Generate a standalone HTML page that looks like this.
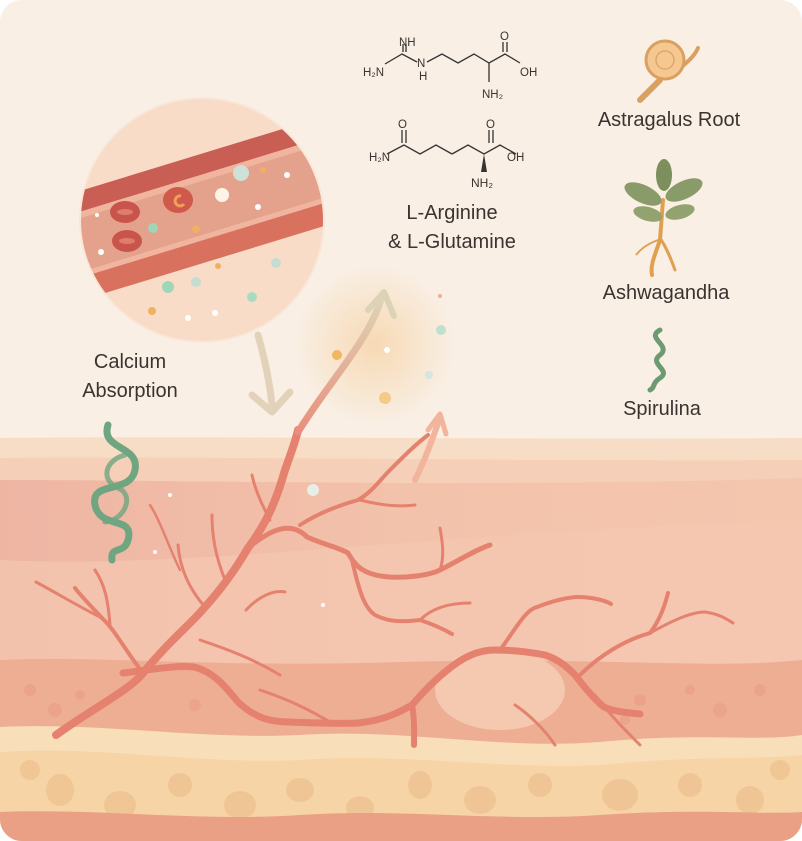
<!DOCTYPE html>
<html><head><meta charset="utf-8"><style>
html,body{margin:0;padding:0;background:#fff}
svg{display:block}
text{font-family:"Liberation Sans",sans-serif;fill:#3a3330}
</style></head><body>
<svg width="802" height="841" viewBox="0 0 802 841" xmlns="http://www.w3.org/2000/svg">
<defs>
<clipPath id="card"><rect x="0" y="0" width="802" height="841" rx="22"/></clipPath>
<clipPath id="circ"><circle cx="202" cy="220" r="121"/></clipPath>
<radialGradient id="glow" cx="0.5" cy="0.5" r="0.5"><stop offset="0" stop-color="#f6d4a8" stop-opacity="0.8"/><stop offset="1" stop-color="#f6d4a8" stop-opacity="0"/></radialGradient>
<linearGradient id="arr1" x1="0" y1="1" x2="0" y2="0"><stop offset="0" stop-color="#e88f7c"/><stop offset="1" stop-color="#ddd6b8"/></linearGradient>
<linearGradient id="dermis" x1="0" y1="0" x2="1" y2="0"><stop offset="0" stop-color="#eeb5a3"/><stop offset="0.5" stop-color="#f3c2ab"/><stop offset="1" stop-color="#f4c6ae"/></linearGradient>
</defs>
<g clip-path="url(#card)">
<rect width="802" height="841" fill="#f9efe4"/>
<path d="M0 438 C200 436 600 440 802 438 L802 841 L0 841Z" fill="#f7dcc6"/>
<path d="M0 458 C200 456 600 462 802 460 L802 841 L0 841Z" fill="#f5cfb7"/>
<path d="M0 480 C200 480 500 488 802 478 L802 841 L0 841Z" fill="url(#dermis)"/>
<path d="M0 560 C200 570 450 530 802 520 L802 841 L0 841Z" fill="#f5c8b0" opacity="0.7"/>
<path d="M0 660 C100 655 200 668 400 662 C600 656 700 670 802 660 L802 841 L0 841Z" fill="#eeae94"/>
<path d="M0 727 C100 722 200 740 300 735 C400 728 500 750 600 742 C700 732 760 742 802 735 L802 841 L0 841Z" fill="#f9dfb9"/>
<path d="M0 752 C100 745 200 765 300 760 C400 752 500 770 600 765 C700 755 760 760 802 755 L802 841 L0 841Z" fill="#f6d4a6"/>
<g fill="#eec08f" opacity="0.7">
<ellipse cx="60" cy="790" rx="14" ry="16"/><ellipse cx="120" cy="805" rx="16" ry="14"/><ellipse cx="180" cy="785" rx="12" ry="12"/><ellipse cx="240" cy="805" rx="16" ry="14"/><ellipse cx="300" cy="790" rx="14" ry="12"/><ellipse cx="360" cy="808" rx="14" ry="12"/><ellipse cx="420" cy="785" rx="12" ry="14"/><ellipse cx="480" cy="800" rx="16" ry="14"/><ellipse cx="540" cy="785" rx="12" ry="12"/><ellipse cx="620" cy="795" rx="18" ry="16"/><ellipse cx="690" cy="785" rx="12" ry="12"/><ellipse cx="750" cy="800" rx="14" ry="14"/><ellipse cx="780" cy="770" rx="10" ry="10"/><ellipse cx="30" cy="770" rx="10" ry="10"/>
</g>
<path d="M0 812 C100 808 200 822 300 815 C400 808 500 822 600 815 C700 808 760 815 802 812 L802 841 L0 841Z" fill="#e9a084"/>
<g fill="#eba18a" opacity="0.8">
<circle cx="30" cy="690" r="6"/><circle cx="55" cy="710" r="7"/><circle cx="80" cy="695" r="5"/><circle cx="195" cy="705" r="6"/><circle cx="640" cy="700" r="6"/><circle cx="690" cy="690" r="5"/><circle cx="720" cy="710" r="7"/><circle cx="760" cy="690" r="6"/><circle cx="625" cy="720" r="5"/>
</g>
<ellipse cx="500" cy="690" rx="65" ry="40" fill="#f5c8b0"/>
<!-- vessels -->
<g fill="none" stroke="#e5826f" stroke-linecap="round" stroke-linejoin="round">
<path d="M56 735 C90 710 130 690 143 673 C170 640 190 625 205 607 C225 585 238 565 248 548 C265 525 275 505 285 470 C292 450 296 440 298 430" stroke-width="8"/>
<path d="M248 548 C270 530 290 520 307 537 C325 545 340 548 348 553 C355 565 362 575 389 577 C410 578 430 575 440 570 C460 560 475 550 490 545" stroke-width="5"/>
<path d="M440 570 C445 555 442 540 440 528" stroke-width="3"/>
<path d="M352 560 C360 595 365 608 375 615 C385 620 395 623 420 620 C435 625 445 630 452 634" stroke-width="4"/>
<path d="M420 620 C430 610 445 603 470 603" stroke-width="3"/>
<path d="M300 525 C320 512 340 505 358 500 C372 492 380 480 390 470 C405 455 415 445 428 435" stroke-width="4"/>
<path d="M360 500 C380 505 400 507 415 505" stroke-width="3"/>
<path d="M123 673 C150 670 175 665 194 667 C215 672 228 690 238 702 C255 718 270 722 290 722 C320 723 340 724 358 723 C385 720 400 712 412 705 C425 690 435 680 445 672 C465 655 480 650 495 650 C515 650 530 652 545 655 C560 660 568 668 575 675 C585 688 595 700 604 707 C615 712 630 713 640 714" stroke-width="7"/>
<path d="M412 705 C415 720 414 735 414 745" stroke-width="6"/>
<path d="M500 650 C515 630 525 610 537 607 C555 600 570 597 578 597 C590 597 605 600 611 604" stroke-width="4"/>
<path d="M580 675 C600 655 625 640 650 633 C660 620 665 605 668 593" stroke-width="4"/>
<path d="M650 633 C670 622 690 612 705 612 C720 614 728 620 733 623" stroke-width="3"/>
<path d="M595 695 C610 715 625 730 640 745" stroke-width="3"/>
<path d="M515 705 C530 715 545 730 555 745" stroke-width="3"/>
<path d="M143 673 C125 650 115 630 102 618 C90 605 80 595 75 588" stroke-width="4"/>
<path d="M102 618 C85 610 60 595 36 582" stroke-width="3"/>
<path d="M110 625 C108 600 105 585 95 570" stroke-width="3"/>
<path d="M205 607 C190 590 180 570 178 545" stroke-width="3"/>
<path d="M180 570 C170 550 160 520 150 505" stroke-width="2.5"/>
<path d="M225 580 C215 555 212 535 212 515" stroke-width="3"/>
<path d="M270 520 C262 505 255 490 252 475" stroke-width="3"/>
<path d="M246 610 C260 595 275 590 285 592" stroke-width="3"/>
<path d="M200 640 C230 650 255 660 280 675" stroke-width="3"/>
<path d="M260 690 C290 700 310 710 335 725" stroke-width="3"/>
</g>
<!-- glow + arrows -->
<circle cx="375" cy="345" r="80" fill="url(#glow)"/>
<path d="M258 335 C265 360 270 385 272 405" stroke="#e2d2ba" stroke-width="7" fill="none" stroke-linecap="round"/>
<path d="M252 395 L272 412 L290 392" stroke="#e2d2ba" stroke-width="7" fill="none" stroke-linecap="round" stroke-linejoin="round"/>
<path d="M298 432 C330 380 370 340 382 296" stroke="url(#arr1)" stroke-width="7" fill="none" stroke-linecap="round"/>
<path d="M368 310 L384 292 L394 316" stroke="#dcd3b6" stroke-width="6" fill="none" stroke-linecap="round" stroke-linejoin="round"/>
<path d="M415 480 C425 460 432 440 440 418" stroke="#f2b49b" stroke-width="6" fill="none" stroke-linecap="round"/>
<path d="M428 430 L440 414 L446 434" stroke="#f2b49b" stroke-width="5" fill="none" stroke-linecap="round" stroke-linejoin="round"/>
<g>
<circle cx="337" cy="355" r="5" fill="#f0b860"/><circle cx="385" cy="398" r="6" fill="#f5c989"/><circle cx="441" cy="330" r="5" fill="#bfe0d0"/><circle cx="429" cy="375" r="4" fill="#d5e5e0"/><circle cx="440" cy="296" r="2" fill="#eeb090"/><circle cx="313" cy="490" r="6" fill="#e7eee8"/><circle cx="387" cy="350" r="3" fill="#fff"/><circle cx="155" cy="552" r="2" fill="#fff"/><circle cx="170" cy="495" r="2" fill="#fff"/><circle cx="323" cy="605" r="2" fill="#fff"/>
</g>
<!-- magnified circle -->
<circle cx="202" cy="220" r="123" fill="#f8e8da"/>
<circle cx="202" cy="220" r="121" fill="#f8dcc7"/>
<g clip-path="url(#circ)">
<g transform="rotate(-17 202 208)">
<rect x="40" y="156" width="330" height="20" fill="#c95e55"/>
<rect x="40" y="176" width="330" height="6" fill="#f0b49f"/>
<rect x="40" y="182" width="330" height="52" fill="#e4a28c"/>
<rect x="40" y="234" width="330" height="5" fill="#f0b49f"/>
<rect x="40" y="239" width="330" height="22" fill="#d8725f"/>
</g>
<ellipse cx="125" cy="212" rx="15" ry="11" fill="#c9544c"/><ellipse cx="125" cy="212" rx="8" ry="3" fill="#e07c6c"/>
<ellipse cx="178" cy="200" rx="15" ry="13" fill="#cf5a4c"/><path d="M181 196 a5 5 0 1 0 3 8" stroke="#f0a05a" stroke-width="3" fill="none"/>
<ellipse cx="127" cy="241" rx="15" ry="11" fill="#c9544c"/><ellipse cx="127" cy="241" rx="8" ry="3" fill="#e07c6c"/>
<circle cx="241" cy="173" r="8" fill="#cfe0d8"/><circle cx="222" cy="195" r="7" fill="#fdf3e7"/><circle cx="153" cy="228" r="5" fill="#9fd6b8"/><circle cx="263" cy="170" r="3" fill="#f0b060"/><circle cx="287" cy="175" r="3" fill="#fff"/><circle cx="196" cy="229" r="4" fill="#f0b060"/>
<circle cx="168" cy="287" r="6" fill="#9fd6b8"/><circle cx="196" cy="282" r="5" fill="#c5dcd0"/><circle cx="218" cy="266" r="3" fill="#f0b060"/><circle cx="252" cy="297" r="5" fill="#a8dbc0"/><circle cx="276" cy="263" r="5" fill="#c5dcd0"/><circle cx="215" cy="313" r="3" fill="#fff"/><circle cx="188" cy="318" r="3" fill="#fff"/><circle cx="152" cy="311" r="4" fill="#f0b060"/><circle cx="97" cy="215" r="2" fill="#fff"/><circle cx="101" cy="252" r="3" fill="#fff"/><circle cx="258" cy="207" r="3" fill="#fff"/>
</g>
<!-- spiral left -->
<g fill="none" stroke="#6fa580" stroke-width="7" stroke-linecap="round">
<path d="M108 425 C100 450 140 445 135 470 C130 495 90 480 95 505 C100 530 135 515 128 540 C124 555 110 545 112 560"/>
<path d="M125 455 C105 460 100 480 118 488 C135 495 125 520 105 522" stroke-width="5" opacity="0.8"/>
</g>
<!-- labels -->
<text x="130" y="368" font-size="20" text-anchor="middle">Calcium</text>
<text x="130" y="397" font-size="20" text-anchor="middle">Absorption</text>
<text x="452" y="219" font-size="20" text-anchor="middle">L-Arginine</text>
<text x="452" y="248" font-size="20" text-anchor="middle">&amp; L-Glutamine</text>
<text x="669" y="126" font-size="20" text-anchor="middle">Astragalus Root</text>
<text x="666" y="299" font-size="20" text-anchor="middle">Ashwagandha</text>
<text x="662" y="415" font-size="20" text-anchor="middle">Spirulina</text>
<!-- chemistry -->
<g stroke="#333" stroke-width="1.3" fill="none">
<path d="M385 64 L402 54 L417 62"/><path d="M403 44 L403 52 M406 44 L406 52"/>
<path d="M427 62 L442 54 L458 63 L474 54 L489 63 L505 54 L520 63"/><path d="M503 52 L503 42 M507 52 L507 42"/><path d="M489 63 L489 82"/>
<path d="M387 154 L404 145 L420 154 L436 145 L452 154"/><path d="M402 143 L402 130 M406 143 L406 130"/><path d="M452 154 L468 145 L484 154 L500 145 L516 154"/><path d="M489 143 L489 130 M493 143 L493 130"/>
</g>
<path d="M484 154 L481 172 L487 172 Z" fill="#333"/>
<g font-size="11.5">
<text x="399" y="46">NH</text><text x="363" y="76">H₂N</text><text x="417" y="67">N</text><text x="419" y="80">H</text>
<text x="500" y="40">O</text><text x="520" y="76">OH</text><text x="482" y="98">NH₂</text>
<text x="398" y="128">O</text><text x="369" y="161">H₂N</text><text x="486" y="128">O</text><text x="507" y="161">OH</text><text x="471" y="187" font-size="12">NH₂</text>
</g>
<!-- astragalus root -->
<g>
<path d="M660 80 C650 90 645 95 640 100" stroke="#d9a060" stroke-width="6" stroke-linecap="round" fill="none"/>
<path d="M678 70 C690 60 695 55 698 48" stroke="#d9a060" stroke-width="4" stroke-linecap="round" fill="none"/>
<circle cx="665" cy="60" r="19" fill="#f4c890" stroke="#d9a060" stroke-width="3"/>
<circle cx="665" cy="60" r="9" fill="none" stroke="#e0a868" stroke-width="1.5"/>
</g>
<!-- ashwagandha -->
<g>
<path d="M663 200 L660 240 C655 255 650 265 652 275" stroke="#e0a050" stroke-width="4" fill="none" stroke-linecap="round"/>
<path d="M660 238 C668 250 672 262 675 270" stroke="#e0a050" stroke-width="3" fill="none" stroke-linecap="round"/>
<path d="M658 240 C645 245 640 250 636 255" stroke="#e0a050" stroke-width="2" fill="none"/>
<ellipse cx="643" cy="194" rx="20" ry="9" fill="#8a9b6a" transform="rotate(25 643 194)"/>
<ellipse cx="684" cy="190" rx="20" ry="9" fill="#8a9b6a" transform="rotate(-25 684 190)"/>
<ellipse cx="664" cy="175" rx="8" ry="16" fill="#7d8f5c"/>
<ellipse cx="648" cy="214" rx="15" ry="7" fill="#93a370" transform="rotate(15 648 214)"/>
<ellipse cx="680" cy="212" rx="15" ry="7" fill="#93a370" transform="rotate(-15 680 212)"/>
</g>
<!-- spirulina -->
<path d="M660 330 C645 338 672 345 660 355 C648 364 672 370 660 378 C652 383 655 388 650 390" stroke="#6e9a72" stroke-width="5" fill="none" stroke-linecap="round"/>
</g>
</svg>
</body></html>
